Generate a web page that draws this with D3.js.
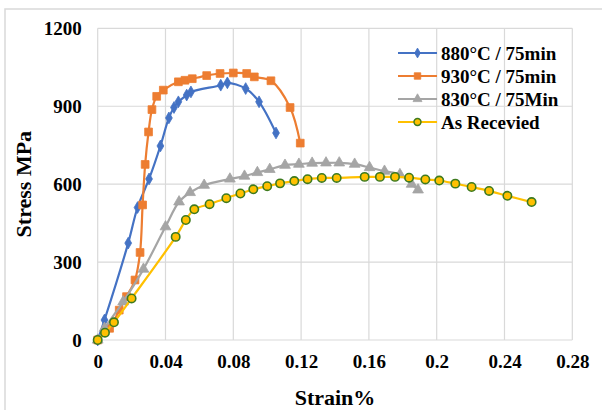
<!DOCTYPE html>
<html lang="en">
<head>
<meta charset="utf-8">
<script src="https://d3js.org/d3.v7.min.js"></script>
<style>
  body { margin: 0; background: #fff; }
  svg text { font-family: "Liberation Serif", "Times New Roman", serif !important; font-weight: bold; fill: #000; }
</style>
</head>
<body>
<script>
// strain (x) / stress (y)
var series880 = [[0,0],[0.004,77],[0.018,373],[0.0235,510],[0.0303,620],[0.037,747],[0.042,855],[0.045,895],[0.0476,917],[0.0525,943],[0.055,955],[0.0726,981],[0.0765,990],[0.0873,968],[0.0952,917],[0.1052,797]];
var series930 = [[0,0],[0.007,45],[0.0127,115],[0.017,167],[0.022,231],[0.025,337],[0.0265,520],[0.028,676],[0.030,801],[0.032,887],[0.0348,938],[0.0387,962],[0.0476,994],[0.0515,1000],[0.0558,1006],[0.0643,1018],[0.0722,1026],[0.080,1028],[0.0879,1026],[0.0924,1013],[0.1022,998],[0.1135,895],[0.1195,758]];
var series830 = [[0,0],[0.004,45],[0.015,147],[0.027,273],[0.040,436],[0.048,532],[0.0545,568],[0.0628,596],[0.078,620],[0.0866,631],[0.0942,645],[0.1015,657],[0.1105,673],[0.1187,677],[0.1265,681],[0.1347,682],[0.1425,682],[0.1516,677],[0.1604,664],[0.1692,650],[0.1783,637],[0.1852,600],[0.189,578]];
var seriesAR = [[0,0],[0.0043,28],[0.0096,68],[0.020,160],[0.046,397],[0.052,462],[0.057,503],[0.066,523],[0.0759,546],[0.0842,564],[0.0918,580],[0.100,592],[0.1076,603],[0.116,612],[0.1238,619],[0.1322,624],[0.141,624],[0.1575,628],[0.1665,628],[0.1754,628],[0.1837,625],[0.1933,618],[0.2015,614],[0.211,602],[0.2206,589],[0.2309,574],[0.2417,555],[0.256,531]];

var seriesNames = ["880°C / 75min", "930°C / 75min", "830°C / 75Min", "As Recevied"];
var xTicks = [0, 0.04, 0.08, 0.12, 0.16, 0.2, 0.24, 0.28];
var yTicks = [0, 300, 600, 900, 1200];

var width = 602, height = 410;
var plot = {left: 97.7, right: 572.3, top: 28.3, bottom: 340};

var svg = d3.select('body').append('svg')
  .attr('width', width)
  .attr('height', height);

// chart frame
svg.append('rect')
  .attr('x', 5).attr('y', 9)
  .attr('width', 700).attr('height', 500)
  .attr('fill', 'none').attr('stroke', '#d9d9d9').attr('stroke-width', 1.5);

var x = d3.scaleLinear().domain([0, 0.28]).range([plot.left, plot.right]);
var y = d3.scaleLinear().domain([0, 1200]).range([plot.bottom, plot.top]);

// gridlines
svg.append('g').selectAll('line').data(xTicks).join('line')
  .attr('x1', d => x(d)).attr('x2', d => x(d))
  .attr('y1', plot.top).attr('y2', plot.bottom)
  .attr('stroke', '#d9d9d9').attr('stroke-width', 1.2);
svg.append('g').selectAll('line').data(yTicks).join('line')
  .attr('x1', plot.left).attr('x2', plot.right)
  .attr('y1', d => y(d)).attr('y2', d => y(d))
  .attr('stroke', '#d9d9d9').attr('stroke-width', 1.2);

// axes (labels only)
var xAxis = svg.append('g')
  .attr('transform', 'translate(0,' + plot.bottom + ')')
  .call(d3.axisBottom(x).tickValues(xTicks).tickSize(0).tickPadding(15)
    .tickFormat(d => String(d)));
var yAxis = svg.append('g')
  .attr('transform', 'translate(' + plot.left + ',0)')
  .call(d3.axisLeft(y).tickValues(yTicks).tickSize(0).tickPadding(16)
    .tickFormat(d => String(d)));
[xAxis, yAxis].forEach(function(a) {
  a.attr('font-family', 'Liberation Serif').attr('font-size', 19).attr('font-weight', 'bold');
  a.select('.domain').remove();
  a.selectAll('text').attr('fill', '#000');
});

// axis titles
svg.append('text')
  .attr('x', (plot.left + plot.right) / 2).attr('y', 405)
  .attr('text-anchor', 'middle')
  .style('font-size', '22px')
  .text('Strain%');
svg.append('text')
  .attr('transform', 'translate(31,' + (plot.top + plot.bottom) / 2 + ') rotate(-90)')
  .attr('text-anchor', 'middle')
  .style('font-size', '22px')
  .text('Stress MPa');

var line = d3.line()
  .x(d => x(d[0])).y(d => y(d[1]))
  .curve(d3.curveCatmullRom.alpha(0.5));

var styles = [
  {data: series880, color: '#4472c4', shape: d3.symbolDiamond, size: 40, stroke: '#4472c4'},
  {data: series930, color: '#ed7d31', shape: d3.symbolSquare, size: 60, stroke: '#ed7d31'},
  {data: series830, color: '#a5a5a5', shape: d3.symbolTriangle, size: 50, stroke: '#a5a5a5'},
  {data: seriesAR, color: '#ffc000', shape: d3.symbolCircle, size: 55, stroke: '#3d7a1e', fill: '#ffc000'}
];

styles.forEach(function(s) {
  var g = svg.append('g');
  g.append('path')
    .datum(s.data)
    .attr('d', line)
    .attr('fill', 'none')
    .attr('stroke', s.color)
    .attr('stroke-width', 2.2);
  g.selectAll('path.m').data(s.data).join('path')
    .attr('class', 'm')
    .attr('transform', d => 'translate(' + x(d[0]) + ',' + y(d[1]) + ')')
    .attr('d', d3.symbol().type(s.shape).size(s.size))
    .attr('fill', s.fill || s.color)
    .attr('stroke', s.stroke)
    .attr('stroke-width', s.shape === d3.symbolCircle ? 1.6 : 0.8);
});

// legend
var legend = svg.append('g');
var legendY = [53, 76, 99, 122];
styles.forEach(function(s, i) {
  var row = legend.append('g').attr('transform', 'translate(0,' + legendY[i] + ')');
  row.append('line')
    .attr('x1', 398).attr('x2', 437)
    .attr('stroke', s.color).attr('stroke-width', 2.2);
  row.append('path')
    .attr('transform', 'translate(417.5,0)')
    .attr('d', d3.symbol().type(s.shape).size(s.size * 0.7))
    .attr('fill', s.fill || s.color)
    .attr('stroke', s.stroke)
    .attr('stroke-width', s.shape === d3.symbolCircle ? 1.4 : 0.8);
  row.append('text')
    .attr('x', 441).attr('y', 0)
    .attr('dy', '0.35em')
    .style('font-size', '19px')
    .text(seriesNames[i]);
});
</script>
</body>
</html>
